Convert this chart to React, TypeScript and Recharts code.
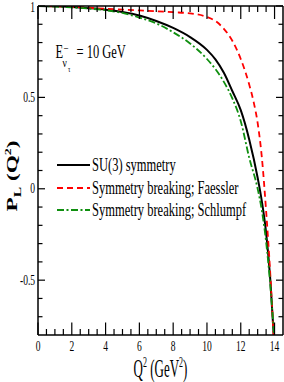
import { LineChart, Line, XAxis, YAxis, Legend } from "recharts";

// Q^2 (GeV^2) and P_L values
const su3Q = [0, 1, 2, 3, 4, 5, 6, 7, 8, 9, 10, 10.5, 11, 11.5, 12, 12.5, 13, 13.25, 13.5, 13.75, 13.95];
const su3P = [1, 0.998, 0.994, 0.988, 0.98, 0.967, 0.948, 0.918, 0.88, 0.83, 0.76, 0.708, 0.635, 0.535, 0.43, 0.27, 0.06, -0.07, -0.24, -0.5, -0.8];

const faesslerQ = [0, 2, 4, 6, 8, 9, 10, 10.5, 11, 11.5, 12, 12.5, 12.75, 13, 13.25, 13.5, 13.75, 13.94];
const faesslerP = [1, 0.995, 0.985, 0.976, 0.966, 0.96, 0.94, 0.918, 0.875, 0.81, 0.71, 0.57, 0.48, 0.36, 0.17, -0.12, -0.47, -0.8];

const schlumpfQ = [0, 1, 2, 3, 4, 5, 6, 7, 8, 9, 10, 10.5, 11, 11.5, 12, 12.5, 13, 13.25, 13.5, 13.75, 13.97];
const schlumpfP = [1, 0.997, 0.992, 0.986, 0.977, 0.962, 0.937, 0.905, 0.856, 0.795, 0.71, 0.655, 0.585, 0.495, 0.37, 0.17, 0.0, -0.12, -0.29, -0.53, -0.8];

const xTicks = [0, 0.5, 1, 1.5, 2, 2.5, 3, 3.5, 4, 4.5, 5, 5.5, 6, 6.5, 7, 7.5, 8, 8.5, 9, 9.5, 10, 10.5, 11, 11.5, 12, 12.5, 13, 13.5, 14];
const yTicks = [-0.7, -0.6, -0.5, -0.4, -0.3, -0.2, -0.1, 0, 0.1, 0.2, 0.3, 0.4, 0.5, 0.6, 0.7, 0.8, 0.9, 1];

const seriesNames = ["SU(3) symmetry", "Symmetry breaking; Faessler", "Symmetry breaking; Schlumpf"];
const seriesColors = ["#000000", "#ff0000", "#0f8f0f"];
const seriesDash = ["", "6 4", "7 2.5 2 2.5"];

const toPoints = (q: number[], p: number[]) => q.map((x, i) => ({ q: x, p: p[i] }));
const seriesData = [toPoints(su3Q, su3P), toPoints(faesslerQ, faesslerP), toPoints(schlumpfQ, schlumpfP)];

const serif = '"Liberation Serif", "DejaVu Serif", serif';

const isMajorX = (v: number) => v % 2 === 0;
const isMajorY = (v: number) => Math.abs(v * 2 - Math.round(v * 2)) < 1e-9;

function BottomTick({ x, y, payload }: any) {
  const v = payload.value;
  const major = isMajorX(v);
  return (
    <g>
      <line x1={x} x2={x} y1={y} y2={y - (major ? 12.5 : 6)} stroke="#000" strokeWidth={1.2} />
      {major && (
        <text transform={`translate(${x},${y + 15.5}) scale(1,1.6)`} textAnchor="middle" fontSize={9.5} fontFamily={serif} fill="#000">
          {v}
        </text>
      )}
    </g>
  );
}

function TopTick({ x, y, payload }: any) {
  const major = isMajorX(payload.value);
  return <line x1={x} x2={x} y1={y} y2={y + (major ? 13 : 6)} stroke="#000" strokeWidth={1.2} />;
}

function LeftTick({ x, y, payload }: any) {
  const v = payload.value;
  const major = isMajorY(v);
  // the top label sits a little lower so it stays inside the picture
  const base = v === 1 ? y + 6 : y + 4.5;
  return (
    <g>
      <line x1={x} x2={x + (major ? 7 : 4.5)} y1={y} y2={y} stroke="#000" strokeWidth={1.2} />
      {major && (
        <text transform={`translate(${x - 3},${base}) scale(1,1.6)`} textAnchor="end" fontSize={9.5} fontFamily={serif} fill="#000">
          {String(v)}
        </text>
      )}
    </g>
  );
}

function RightTick({ x, y, payload }: any) {
  const major = isMajorY(payload.value);
  return <line x1={x} x2={x - (major ? 7 : 4.5)} y1={y} y2={y} stroke="#000" strokeWidth={1.2} />;
}

function LegendBox() {
  return (
    <div style={{ fontFamily: serif }}>
      {seriesNames.map((name, i) => (
        <div key={name} style={{ display: "flex", alignItems: "center", height: 22.5 }}>
          <svg width={33} height={6}>
            <line x1={0} x2={33} y1={3} y2={3} stroke={seriesColors[i]} strokeWidth={i === 0 ? 2 : 1.8} strokeDasharray={seriesDash[i] || undefined} />
          </svg>
          <span style={{ marginLeft: 2, fontSize: 12.5, lineHeight: 1, display: "inline-block", transform: "scaleY(1.45)", whiteSpace: "nowrap", color: "#000" }}>
            {name}
          </span>
        </div>
      ))}
    </div>
  );
}

const frame = { stroke: "#000", strokeWidth: 1.5 };

export default function App() {
  return (
    <div style={{ position: "absolute", left: 0, top: 0, width: 284, height: 382, background: "#fff" }}>
      <LineChart width={284} height={382} margin={{ top: 5, right: 0, bottom: 46, left: 37 }}>
        <XAxis xAxisId="b" dataKey="q" type="number" domain={[0, 14.5]} allowDataOverflow ticks={xTicks} interval={0} height={1} tickSize={0} tickMargin={0} tickLine={false} tick={<BottomTick />} axisLine={frame} />
        <XAxis xAxisId="t" orientation="top" dataKey="q" type="number" domain={[0, 14.5]} allowDataOverflow ticks={xTicks} interval={0} height={1} tickSize={0} tickMargin={0} tickLine={false} tick={<TopTick />} axisLine={frame} />
        <YAxis yAxisId="l" type="number" domain={[-0.8, 1]} allowDataOverflow ticks={yTicks} interval={0} width={1} tickSize={0} tickMargin={0} tickLine={false} tick={<LeftTick />} axisLine={frame} />
        <YAxis yAxisId="r" orientation="right" type="number" domain={[-0.8, 1]} allowDataOverflow ticks={yTicks} interval={0} width={1} tickSize={0} tickMargin={0} tickLine={false} tick={<RightTick />} axisLine={frame} />
        {seriesNames.map((name, i) => (
          <Line
            key={name}
            xAxisId="b"
            yAxisId="l"
            name={name}
            data={seriesData[i]}
            dataKey="p"
            type="monotone"
            stroke={seriesColors[i]}
            strokeWidth={i === 0 ? 2 : 1.8}
            strokeDasharray={seriesDash[i] || undefined}
            dot={false}
            activeDot={false}
            isAnimationActive={false}
          />
        ))}
        <Legend layout="vertical" align="center" verticalAlign="middle" content={<LegendBox />} wrapperStyle={{ left: 57, top: 154, width: 210 }} />
      </LineChart>
      <svg width={284} height={382} style={{ position: "absolute", left: 0, top: 0, pointerEvents: "none" }} fontFamily={serif} fill="#000">
        {/* E_{nu-bar tau} = 10 GeV */}
        <text transform="translate(55.5,58) scale(1,1.5)" fontSize={12.5}>E</text>
        <text transform="translate(63.5,52) scale(1,1.3)" fontSize={9}>−</text>
        <text transform="translate(62.5,66.5) scale(1,1.3)" fontSize={9.5}>ν</text>
        <text transform="translate(68,72) scale(1,1.3)" fontSize={6}>τ</text>
        <text transform="translate(76.5,58) scale(1,1.5)" fontSize={12.5}>= 10 GeV</text>
        {/* y axis label */}
        <g transform="translate(17,176) rotate(-90) scale(1.55,1)">
          <text textAnchor="middle" fontSize={15} fontWeight="bold">
            P<tspan fontSize={10} dy={4}>L</tspan>
            <tspan dy={-4}> (Q</tspan>
            <tspan fontSize={9} dy={-6}>2</tspan>
            <tspan dy={6}>)</tspan>
          </text>
        </g>
        {/* x axis label */}
        <g transform="translate(160.5,376.5) scale(1,1.9)">
          <text textAnchor="middle" fontSize={13}>
            Q<tspan fontSize={8} dy={-5}>2</tspan>
            <tspan dy={5}> (GeV</tspan>
            <tspan fontSize={8} dy={-5}>2</tspan>
            <tspan dy={5}>)</tspan>
          </text>
        </g>
      </svg>
    </div>
  );
}
